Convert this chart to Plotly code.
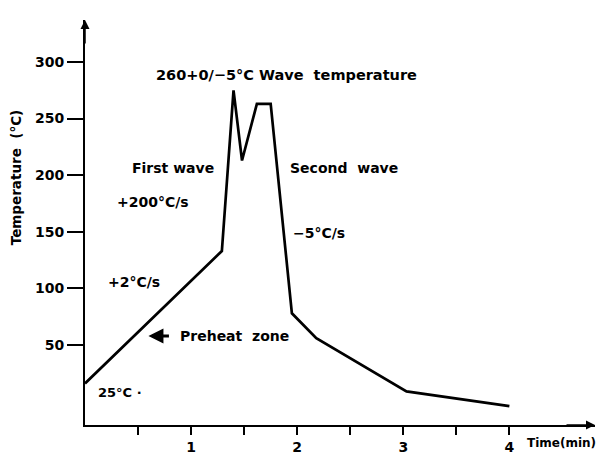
import plotly.graph_objects as go

# Data (time in minutes, temperature in °C)
time_min = [0.0, 1.29, 1.40, 1.48, 1.62, 1.75, 1.95, 2.18, 3.03, 4.00]
temp_c = [16, 133, 275, 213, 263, 263, 78, 56, 9, -4]

x_tickvals = [0.5, 1, 1.5, 2, 2.5, 3, 3.5, 4]
x_ticktext = ["", "<b>1</b>", "", "<b>2</b>", "", "<b>3</b>", "", "<b>4</b>"]
y_tickvals = [50, 100, 150, 200, 250, 300]
y_ticktext = ["<b>50</b>", "<b>100</b>", "<b>150</b>", "<b>200</b>", "<b>250</b>", "<b>300</b>"]

X_RANGE = [0.0, 4.807]
Y_RANGE = [-20.7, 337.1]

FONT = "DejaVu Sans"
NB = "\u00a0"

fig = go.Figure()
fig.add_trace(go.Scatter(
    x=time_min, y=temp_c, mode="lines",
    line=dict(color="black", width=2.7),
    hoverinfo="skip", showlegend=False,
))


def label(text, x, y, xanchor="left", size=14):
    fig.add_annotation(x=x, y=y, xref="x", yref="y", text="<b>" + text + "</b>",
                       showarrow=False, xanchor=xanchor, yanchor="middle",
                       font=dict(family=FONT, size=size, color="black"))


label("260+0/−5°C" + NB + "Wave" + NB + NB + "temperature", 1.90, 288.5, "center", 14.5)
label("First" + NB + "wave", 0.42, 206)
label("+200°C/s", 0.28, 176.5)
label("Second" + NB + NB + "wave", 1.91, 206)
label("−5°C/s", 1.94, 149)
label("+2°C/s", 0.20, 105.6)
label("Preheat" + NB + NB + "zone", 0.88, 58)
label("25°C" + NB + "·", 0.10, 7.6, size=13)

# Preheat arrow
fig.add_annotation(x=0.598, y=58, xref="x", yref="y", ax=22, ay=0, text="",
                   showarrow=True, arrowhead=2, arrowsize=1, arrowwidth=3,
                   arrowcolor="black")

# Axis arrowheads
fig.add_annotation(x=X_RANGE[1], y=Y_RANGE[0], xref="x", yref="y",
                   ax=-30, ay=0, text="", showarrow=True, arrowhead=2,
                   arrowsize=1.2, arrowwidth=1.5, arrowcolor="black")
fig.add_annotation(x=0, y=Y_RANGE[1], xref="x", yref="y",
                   ax=0, ay=25, text="", showarrow=True, arrowhead=2,
                   arrowsize=1.2, arrowwidth=1.5, arrowcolor="black")

# Axis titles
fig.add_annotation(x=1.006, y=-0.045, xref="paper", yref="paper",
                   text="<b>Time(min)</b>", showarrow=False, xanchor="right",
                   yanchor="middle", font=dict(family=FONT, size=12, color="black"))
fig.add_annotation(x=-0.135, y=0.612, xref="paper", yref="paper",
                   text="<b>Temperature" + NB + NB + "(°C)</b>", textangle=-90,
                   showarrow=False, xanchor="center", yanchor="middle",
                   font=dict(family=FONT, size=13.5, color="black"))

fig.update_xaxes(range=X_RANGE, showline=True, linecolor="black", linewidth=2,
                 showgrid=False, zeroline=False, ticks="outside", ticklen=8,
                 tickwidth=2, tickcolor="black", tickvals=x_tickvals,
                 ticktext=x_ticktext, automargin=False,
                 tickfont=dict(family=FONT, size=14, color="black"))
fig.update_yaxes(range=Y_RANGE, showline=True, linecolor="black", linewidth=2,
                 showgrid=False, zeroline=False, ticks="outside", ticklen=16,
                 tickwidth=2, tickcolor="black", tickvals=y_tickvals,
                 ticktext=y_ticktext, ticklabelstandoff=0, automargin=False,
                 tickfont=dict(family=FONT, size=14, color="black"))

# The page body adds an 8px offset, so the figure is shifted/sized to fit.
fig.update_layout(width=592, height=447,
                  margin=dict(l=77, r=5, t=12, b=30, autoexpand=False),
                  plot_bgcolor="white", paper_bgcolor="white", showlegend=False)

fig.write_html("out.html")
